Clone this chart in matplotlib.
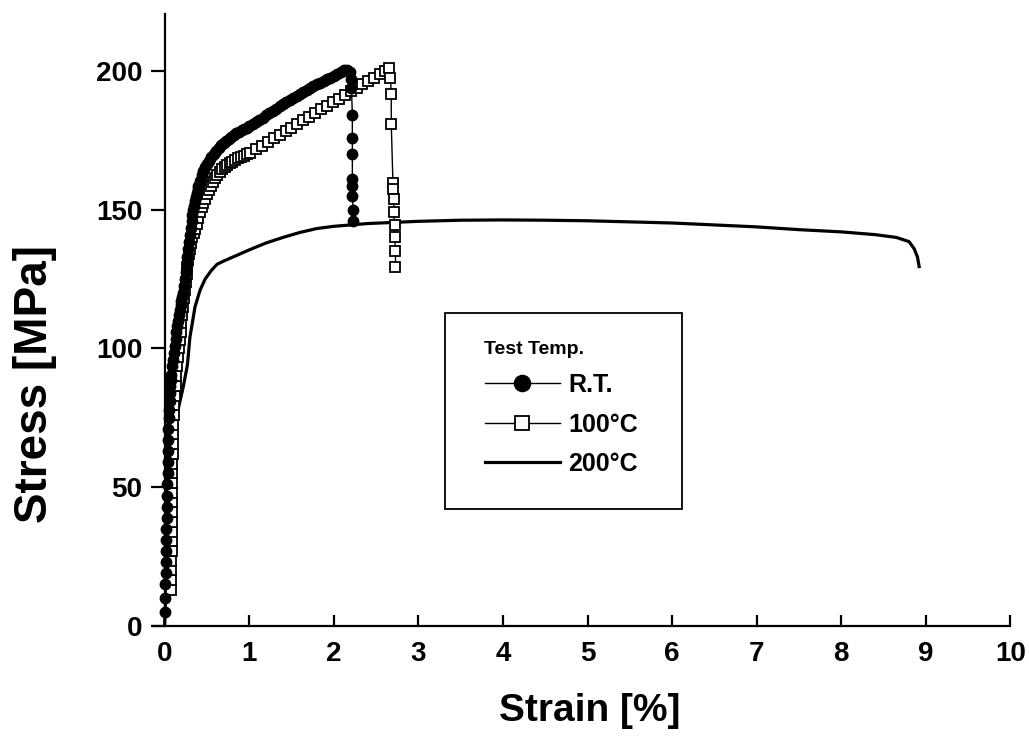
import matplotlib
matplotlib.use("Agg")
import matplotlib.pyplot as plt
from matplotlib.patches import Rectangle

plt.rcParams['font.family'] = ['Liberation Sans', 'DejaVu Sans']
plt.rcParams['font.weight'] = 'bold'

# ---- data ----
rt_strain = [0.000, 0.005, 0.010, 0.012, 0.015, 0.018, 0.020, 0.022, 0.025, 0.028,
             0.030, 0.032, 0.035, 0.038, 0.040, 0.043, 0.046, 0.050, 0.055, 0.060,
             0.065, 0.070, 0.075, 0.080, 0.090, 0.100, 0.110, 0.120, 0.130, 0.140,
             0.150, 0.160, 0.170, 0.180, 0.190, 0.200, 0.210, 0.220, 0.230, 0.240,
             0.250, 0.260, 0.270, 0.280, 0.290, 0.300, 0.310, 0.320, 0.330, 0.340,
             0.350, 0.360, 0.370, 0.380, 0.390, 0.400, 0.420, 0.440, 0.460, 0.480,
             0.500, 0.520, 0.550, 0.580, 0.610, 0.640, 0.670, 0.700, 0.730, 0.760,
             0.790, 0.820, 0.850, 0.880, 0.910, 0.940, 0.970, 1.000, 1.040, 1.080,
             1.120, 1.160, 1.200, 1.240, 1.280, 1.320, 1.360, 1.400, 1.440, 1.480,
             1.520, 1.560, 1.600, 1.640, 1.680, 1.720, 1.760, 1.800, 1.840, 1.880,
             1.920, 1.960, 2.000, 2.040, 2.080, 2.120, 2.160, 2.190, 2.210, 2.210,
             2.220, 2.220, 2.220, 2.220, 2.220, 2.220, 2.230, 2.230]
rt_stress = [5, 10, 15, 19, 23, 27, 31, 35, 39, 43,
             47, 51, 55, 59, 63, 67, 71, 75, 78, 81,
             84, 86.5, 88.5, 90.5, 93.5, 96, 98.5, 101, 103.5, 106,
             108, 110, 112, 114, 115.5, 117, 118.5, 120, 122.5, 125,
             127.5, 130, 133, 136, 138.5, 141, 143.5, 146, 148, 150,
             151.5, 153, 154.5, 156, 157.3, 158.5, 160.5, 162.5, 164, 165.2,
             166.3, 167.5, 169, 170, 171.2, 172.3, 173.2, 174, 174.8, 175.5,
             176.2, 177, 177.5, 178.1, 178.7, 179.2, 179.6, 180, 180.8, 181.6,
             182.4, 183.2, 184, 184.8, 185.6, 186.4, 187.2, 188, 188.8, 189.6,
             190.4, 191.1, 191.8, 192.5, 193.2, 193.9, 194.6, 195.2, 195.8, 196.4,
             197, 197.6, 198.2, 199, 199.6, 200.2, 200.4, 199.5, 197, 194,
             184, 176, 170, 161, 158.5, 155, 150, 146]

c100_strain = [0.075, 0.077, 0.080, 0.082, 0.083, 0.084, 0.085, 0.086, 0.087, 0.088,
               0.090, 0.091, 0.092, 0.093, 0.095, 0.097, 0.100, 0.104, 0.110, 0.116,
               0.122, 0.130, 0.140, 0.150, 0.160, 0.170, 0.180, 0.190, 0.200, 0.210,
               0.220, 0.230, 0.240, 0.250, 0.260, 0.270, 0.280, 0.290, 0.300, 0.315,
               0.330, 0.345, 0.360, 0.380, 0.400, 0.420, 0.440, 0.460, 0.480, 0.500,
               0.520, 0.545, 0.570, 0.595, 0.620, 0.650, 0.680, 0.710, 0.740, 0.770,
               0.800, 0.835, 0.870, 0.905, 0.940, 0.975, 1.010, 1.080, 1.150, 1.220,
               1.290, 1.360, 1.430, 1.500, 1.570, 1.640, 1.710, 1.780, 1.850, 1.920,
               1.990, 2.060, 2.130, 2.200, 2.270, 2.340, 2.410, 2.480, 2.550, 2.610,
               2.650, 2.670, 2.680, 2.680, 2.700, 2.700, 2.710, 2.710, 2.720, 2.720,
               2.730, 2.730]
c100_stress = [13, 16.5, 20, 23.5, 27, 30.5, 34, 37.5, 41, 44.5,
               48, 51.5, 55, 58.5, 62, 65.5, 69, 72.5, 76, 79.5,
               83, 86.5, 90, 93.5, 97, 100, 103, 106, 109, 112,
               115, 118, 121, 124, 127, 129.5, 132, 134, 136, 138,
               140, 141.5, 143, 145, 147, 149, 151, 152.5, 154, 155.5,
               157, 158.5, 160, 161.3, 162.5, 163.5, 164.5, 165.3, 166, 166.7,
               167.3, 168, 168.5, 169, 169.5, 170, 170.5, 171.8, 173.1, 174.4,
               175.7, 177, 178.3, 179.6, 180.9, 182.2, 183.5, 184.8, 186.1, 187.4,
               188.7, 190, 191.3, 192.6, 193.9, 195.2, 196.4, 197.6, 198.8, 200,
               201, 197.5, 191.5, 181, 159.5, 157.5, 154, 149, 144.5, 140,
               135, 129.5]

c200_strain = [0.00, 0.02, 0.04, 0.06, 0.09, 0.12, 0.16, 0.22, 0.27, 0.30,
               0.36, 0.42, 0.48, 0.55, 0.62, 0.70, 0.85, 1.00, 1.20, 1.40,
               1.60, 1.80, 2.00, 2.40, 3.00, 3.50, 4.00, 4.50, 5.00, 5.50,
               6.00, 6.50, 7.00, 7.50, 8.00, 8.40, 8.65, 8.80, 8.86, 8.90, 8.92]
c200_stress = [0, 15, 30, 45, 60, 70, 78, 86, 94, 104,
               115, 121, 125, 128, 130.3, 131.5, 133.5, 135.5, 138, 140,
               141.8, 143.2, 144, 145, 145.8, 146.2, 146.3, 146.2, 146, 145.6,
               145.2, 144.5, 143.8, 142.8, 142, 141, 140, 138.5, 136, 133, 129.5]

x_ticks = [0, 1, 2, 3, 4, 5, 6, 7, 8, 9, 10]
y_ticks = [0, 50, 100, 150, 200]
labels = ['R.T.', '100°C', '200°C']
legend_title = 'Test Temp.'

# ---- figure ----
W, H = 1029, 739
fig = plt.figure(figsize=(W / 100, H / 100), dpi=100)
ax = fig.add_axes([152.7 / W, 113 / H, (1010.5 - 152.7) / W, (626 - 14) / H])

l200, = ax.plot(c200_strain, c200_stress, color='black', lw=2.3, zorder=2)
l100, = ax.plot(c100_strain, c100_stress, color='black', lw=1.0, marker='s',
                markersize=6.5, markerfacecolor='white', markeredgecolor='black',
                markeredgewidth=1.3, zorder=3)
lrt, = ax.plot(rt_strain, rt_stress, color='black', lw=1.0, marker='o',
               markersize=7.5, markerfacecolor='black', markeredgecolor='black',
               zorder=4)

ax.set_xlim(-0.14, 10.0)
ax.set_ylim(0, 220.5)
ax.spines['top'].set_visible(False)
ax.spines['right'].set_visible(False)
ax.spines['left'].set_position(('data', 0))
for s in ('left', 'bottom'):
    ax.spines[s].set_linewidth(1.6)
    ax.spines[s].set_clip_on(False)

ax.set_xticks(x_ticks)
ax.set_yticks(y_ticks)
ax.tick_params(axis='x', direction='in', length=8, width=1.6, pad=11,
               labelsize=20)
ax.tick_params(axis='y', direction='out', length=10, width=1.6, pad=6,
               labelsize=20)
for t in ax.get_xticklabels() + ax.get_yticklabels():
    t.set_fontweight('bold')
for t in ax.xaxis.get_major_ticks() + ax.yaxis.get_major_ticks():
    t.tick1line.set_clip_on(False)

fig.text(590 / W, 1 - 711 / H, 'Strain [%]', fontsize=28, fontweight='bold',
         ha='center', va='center')
fig.text(35 / W, 1 - 384 / H, 'Stress [MPa]', fontsize=33, fontweight='bold',
         ha='center', va='center', rotation=90)

leg = ax.legend([lrt, l100, l200], labels, title=legend_title,
                loc='upper left', bbox_to_anchor=(472 / W, 1 - 328 / H),
                bbox_transform=fig.transFigure, frameon=False,
                fontsize=18, title_fontsize=14, alignment='left',
                handlelength=3.0, handletextpad=0.35, labelspacing=0.62,
                borderpad=0, numpoints=1, markerscale=1.55)
leg.get_title().set_fontweight('bold')
for t in leg.get_texts():
    t.set_fontweight('bold')
fig.add_artist(Rectangle((445 / W, 1 - 509 / H), (682 - 445) / W, (509 - 313) / H,
                         transform=fig.transFigure, fill=False,
                         edgecolor='black', linewidth=1.3))

fig.savefig('out.png', dpi=100)
